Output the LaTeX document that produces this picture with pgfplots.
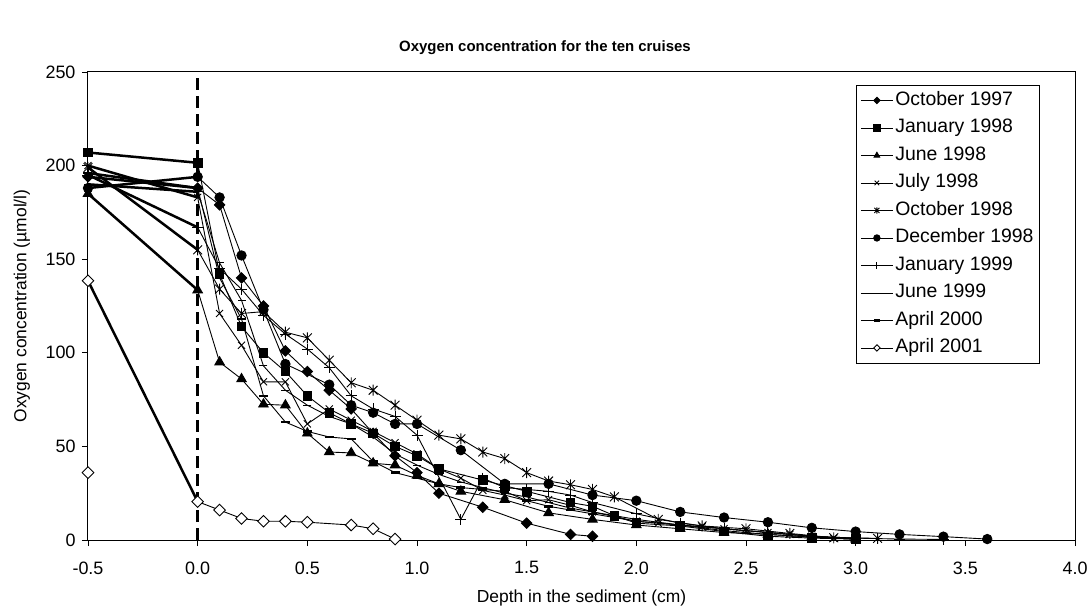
\documentclass[border=0pt]{standalone}
\usepackage{pgfplots}
\pgfplotsset{compat=1.18}
\usepackage{fontspec}
\setmainfont{Liberation Sans}
\pgfdeclareplotmark{xstar}{%
  \pgfpathmoveto{\pgfqpoint{-0.8\pgfplotmarksize}{-0.8\pgfplotmarksize}}%
  \pgfpathlineto{\pgfqpoint{0.8\pgfplotmarksize}{0.8\pgfplotmarksize}}%
  \pgfpathmoveto{\pgfqpoint{-0.8\pgfplotmarksize}{0.8\pgfplotmarksize}}%
  \pgfpathlineto{\pgfqpoint{0.8\pgfplotmarksize}{-0.8\pgfplotmarksize}}%
  \pgfpathmoveto{\pgfqpoint{0pt}{-\pgfplotmarksize}}%
  \pgfpathlineto{\pgfqpoint{0pt}{\pgfplotmarksize}}%
  \pgfusepathqstroke}
\pgfdeclareplotmark{rdiamond}{%
  \pgfpathmoveto{\pgfqpoint{0pt}{\pgfplotmarksize}}%
  \pgfpathlineto{\pgfqpoint{\pgfplotmarksize}{0pt}}%
  \pgfpathlineto{\pgfqpoint{0pt}{-\pgfplotmarksize}}%
  \pgfpathlineto{\pgfqpoint{-\pgfplotmarksize}{0pt}}%
  \pgfpathclose
  \pgfusepathqfillstroke}
\begin{document}
\begin{tikzpicture}
\useasboundingbox (-88bp,-71bp) rectangle (1002bp,540bp);
\begin{axis}[
  at={(0,0)}, anchor=south west,
  scale only axis, width=987bp, height=468bp,
  xmin=-0.5, xmax=4, ymin=0, ymax=250,
  clip=false,
  xtick={-0.5,0,0.5,1,1.5,2,2.5,3,3.5,4},
  xticklabels={-0.5,0.0,0.5,1.0,1.5,2.0,2.5,3.0,3.5,4.0},
  ytick={0,50,100,150,200,250},
  xtick pos=bottom, ytick pos=left,
  tick align=outside, major tick length=6bp,
  every tick/.style={black, line width=0.9bp},
  axis line style={line width=1bp},
  tick label style={font=\fontsize{18}{20}\selectfont},
  xticklabel style={yshift=-12bp},
  yticklabel style={xshift=-3bp},
  /pgf/number format/assume math mode=true,
  title={Oxygen concentration for the ten cruises},
  title style={font=\bfseries\fontsize{15}{18}\selectfont, at={(axis description cs:0.463,1.040)}, anchor=center},
  xlabel={Depth in the sediment (cm)},
  xlabel style={font=\fontsize{17.5}{20}\selectfont, at={(axis description cs:0.5,-0.124)}, anchor=center},
  ylabel={Oxygen concentration (µmol/l)},
  ylabel style={font=\fontsize{17.5}{20}\selectfont, at={(axis description cs:-0.0669,0.5)}, anchor=center},
  every axis plot/.append style={black, line width=0.9bp},
  legend style={at={(0.7781,0.9722)}, anchor=north west, draw=black, line width=0.9bp,
    font=\fontsize{19.5}{21}\selectfont, inner sep=4bp, row sep=5.5bp,
    nodes={inner sep=2bp, text height=14bp, text depth=4bp}},
  legend cell align=left,
  legend image code/.code={\draw[mark repeat=2,mark phase=2,#1,mark size=3.2bp] plot coordinates {(0bp,0bp)(16bp,0bp)(32bp,0bp)};},
]
% dashed reference line at depth 0
\addplot[forget plot, line width=3bp, dash pattern=on 12bp off 6bp] coordinates {(0,0)(0,250)};
% thick water-column segments
\addplot[forget plot, line width=2.5bp] coordinates {(-0.5,194)(0,188)};
\addplot[forget plot, line width=2.5bp] coordinates {(-0.5,207)(0,201.5)};
\addplot[forget plot, line width=2.5bp] coordinates {(-0.5,185)(0,133.5)};
\addplot[forget plot, line width=2.5bp] coordinates {(-0.5,200)(0,183)};
\addplot[forget plot, line width=2.5bp] coordinates {(-0.5,199)(0,155)};
\addplot[forget plot, line width=2.5bp] coordinates {(-0.5,188)(0,194)};
\addplot[forget plot, line width=2.5bp] coordinates {(-0.5,195)(0,167)};
\addplot[forget plot, line width=2.5bp] coordinates {(-0.5,190)(0,186)};
\addplot[forget plot, line width=2.5bp] coordinates {(-0.5,196)(0,188)};
\addplot[forget plot, line width=2.5bp] coordinates {(-0.5,138.5)(0,20.5)};
% series
\addplot[mark=rdiamond, mark size=5.2bp, mark options={fill=black}] coordinates {
(-0.5,194)(0,188)(0.1,179)(0.2,140)(0.3,125)(0.4,101)(0.5,90)(0.6,80)(0.7,70)(0.8,57)(0.9,45)(1.0,36)(1.1,25)(1.3,17.5)(1.5,9)(1.7,3)(1.8,2)};
\addlegendentry{October 1997}
\addplot[mark=square*, mark size=4.3bp] coordinates {
(-0.5,207)(0,201.5)(0.1,142)(0.2,114)(0.3,100)(0.4,90)(0.5,77)(0.6,68)(0.7,62)(0.8,57)(0.9,50)(1.0,45)(1.1,38)(1.3,32)(1.4,29)(1.5,26)(1.7,20)(1.8,18)(1.9,13)(2.0,9)(2.2,7.5)(2.4,4.5)(2.6,2)(2.8,1)(3.0,0.5)};
\addlegendentry{January 1998}
\addplot[mark=triangle*, mark size=5.5bp] coordinates {
(-0.5,185)(0,133.5)(0.1,95)(0.2,86)(0.3,72.5)(0.4,72)(0.5,57)(0.6,47)(0.7,46.5)(0.8,41)(0.9,40)(1.0,34.5)(1.1,30)(1.2,26)(1.4,21.5)(1.6,14.5)(1.8,11)(2.0,8)(2.2,6)(2.4,4)(2.6,3)(2.8,1.5)(3.0,0.5)};
\addlegendentry{June 1998}
\addplot[mark=x, mark size=5bp] coordinates {
(-0.5,200)(0,183)(0.1,121)(0.2,104)(0.3,84.5)(0.4,84.5)(0.5,62)(0.6,70)(0.7,64)(0.8,58)(0.9,52)(1.0,46)(1.1,38)(1.2,33)(1.3,26.5)(1.4,24)(1.5,21)(1.6,21.5)(1.7,18.5)(1.8,15)(1.9,12.5)(2.0,10)(2.1,9)(2.2,8)(2.3,7)(2.4,6)(2.5,5)(2.6,4)(2.7,3)(2.8,2)(2.9,1)(3.0,0.5)};
\addlegendentry{July 1998}
\addplot[mark=xstar, mark size=5.5bp] coordinates {
(-0.5,199)(0,155)(0.1,134)(0.2,121)(0.3,122)(0.4,111)(0.5,108)(0.6,96)(0.7,84)(0.8,80)(0.9,72)(1.0,64)(1.1,56)(1.2,54)(1.3,47)(1.4,43.5)(1.5,36)(1.6,31.5)(1.7,29.5)(1.8,27)(1.9,23)(2.1,11)(2.3,7.5)(2.5,6)(2.7,3.5)(2.9,1.2)(3.1,0.9)};
\addlegendentry{October 1998}
\addplot[mark=*, mark size=4.7bp] coordinates {
(-0.5,188)(0,194)(0.1,183)(0.2,152)(0.3,123)(0.4,94)(0.6,83)(0.7,72)(0.8,68)(0.9,62)(1.0,62)(1.2,48)(1.4,30)(1.6,30)(1.8,24)(2.0,21)(2.2,15)(2.4,12)(2.6,9.5)(2.8,6.5)(3.0,4.5)(3.2,3)(3.4,1.8)(3.6,0.5)};
\addlegendentry{December 1998}
\addplot[mark=+, mark size=5.5bp] coordinates {
(-0.5,195)(0,167)(0.1,145)(0.2,134)(0.3,120)(0.4,110)(0.5,102)(0.6,92)(0.7,77)(0.8,70)(0.9,66)(1.0,56)(1.2,11)(1.3,33)(1.4,28)(1.5,27)(1.6,26)(1.7,24)(1.8,20)(2.0,14)(2.2,9)(2.4,6)(2.6,4)(2.8,2)(3.0,1)(3.2,0.5)(3.4,0.3)};
\addlegendentry{January 1999}
\addplot[mark=-, mark size=4bp] coordinates {
(-0.5,190)(0,186)(0.1,148)(0.2,128)(0.3,93)(0.4,80)(0.5,72)(0.6,66)(0.7,62)(0.8,55)(0.9,46)(1.0,40)(1.1,35)(1.2,31)(1.3,28)(1.4,25)(1.5,23)(1.6,20)(1.7,17)(1.8,15)(2.0,11)(2.2,8)(2.4,6)(2.6,4)(2.8,2)(3.0,1)};
\addlegendentry{June 1999}
\addplot[mark=-, mark size=4.5bp, mark options={line width=2.5bp}] coordinates {
(-0.5,196)(0,188)(0.1,140)(0.2,118)(0.3,77)(0.4,63)(0.5,58)(0.6,55)(0.7,54)(0.8,42)(0.9,36)(1.0,33)(1.1,30)(1.2,28)(1.3,27)(1.4,26)(1.5,21)(1.6,18)(1.7,16)(1.8,14)(2.0,10)(2.2,8)(2.4,5)(2.6,3)(2.8,1.5)(3.0,0.5)};
\addlegendentry{April 2000}
\addplot[mark=rdiamond, mark size=5.8bp, mark options={fill=white}] coordinates {
(-0.5,138.5)(0,20.5)(0.1,16)(0.2,11.5)(0.3,10)(0.4,10)(0.5,9.5)(0.7,8)(0.8,6)(0.9,0.5)};
\addlegendentry{April 2001}
\addplot[forget plot, only marks, mark=rdiamond, mark size=5.8bp, mark options={fill=white}] coordinates {(-0.5,36)};
\end{axis}
\end{tikzpicture}
\end{document}
